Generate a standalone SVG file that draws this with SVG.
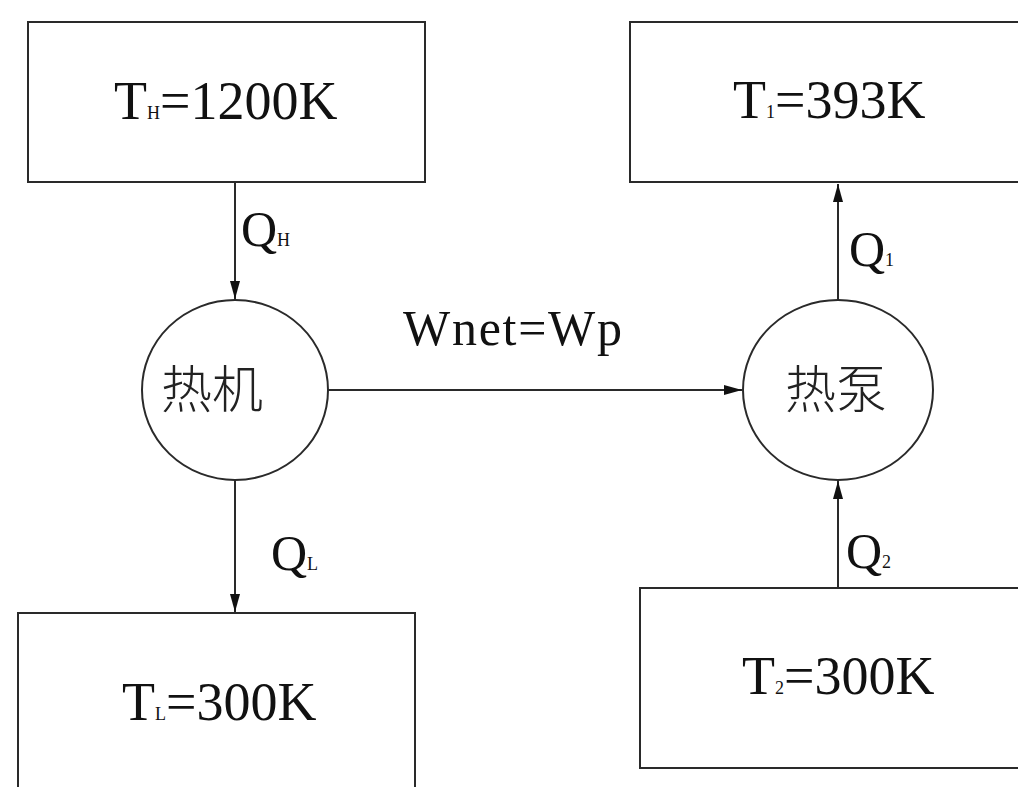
<svg xmlns="http://www.w3.org/2000/svg" width="1018" height="787" viewBox="0 0 1018 787">
<style>
.box{fill:#fff;stroke:#2a2a2a;stroke-width:2}
.lbl{font-family:"Liberation Serif","Times New Roman",serif;font-size:50px;fill:#111}
.big{font-size:54px}
.sub{font-size:18px}
.cn{font-family:"Noto Sans CJK SC",sans-serif;font-size:51px;font-weight:300;fill:#222}
.ln{stroke:#2a2a2a;stroke-width:2;fill:none}
</style>
<defs>
<marker id="ah" viewBox="0 0 10 10" refX="10" refY="5" markerWidth="18" markerHeight="10" markerUnits="userSpaceOnUse" orient="auto" preserveAspectRatio="none">
<path d="M0,0 L10,5 L0,10 Z" fill="#111"/>
</marker>
</defs>
<rect width="1018" height="787" fill="#fff"/>
<g id="connectors">
<line class="ln" x1="235" y1="183" x2="235" y2="299" marker-end="url(#ah)"/>
<line class="ln" x1="235" y1="480" x2="235" y2="612" marker-end="url(#ah)"/>
<line class="ln" x1="328" y1="390" x2="742" y2="390" marker-end="url(#ah)"/>
<line class="ln" x1="838" y1="300" x2="838" y2="184" marker-end="url(#ah)"/>
<line class="ln" x1="838" y1="588" x2="838" y2="481" marker-end="url(#ah)"/>
<text class="lbl" x="241" y="246">Q<tspan class="sub">H</tspan></text>
<text class="lbl" x="271" y="570">Q<tspan class="sub">L</tspan></text>
<text class="lbl" x="849" y="266">Q<tspan class="sub">1</tspan></text>
<text class="lbl" x="846" y="568">Q<tspan class="sub">2</tspan></text>
<text class="lbl" x="403" y="345" textLength="219">Wnet=Wp</text>
</g>
<g id="hot-reservoir">
<rect class="box" x="28" y="22" width="397" height="160"/>
<text class="lbl big" x="114" y="119">T<tspan class="sub">H</tspan>=1200K</text>
</g>
<g id="heat-engine">
<ellipse class="box" cx="235" cy="390" rx="93" ry="90"/>
<text class="cn" x="212" y="408" text-anchor="middle">热机</text>
</g>
<g id="cold-reservoir">
<rect class="box" x="18" y="613" width="397" height="200"/>
<text class="lbl big" x="122" y="720">T<tspan class="sub">L</tspan>=300K</text>
</g>
<g id="sink">
<rect class="box" x="630" y="22" width="400" height="160"/>
<text class="lbl big" x="733" y="118">T<tspan class="sub">1</tspan>=393K</text>
</g>
<g id="heat-pump">
<ellipse class="box" cx="838" cy="390" rx="95" ry="90"/>
<text class="cn" x="836" y="408" text-anchor="middle">热泵</text>
</g>
<g id="source">
<rect class="box" x="640" y="588" width="390" height="180"/>
<text class="lbl big" x="742" y="694">T<tspan class="sub">2</tspan>=300K</text>
</g>
</svg>
